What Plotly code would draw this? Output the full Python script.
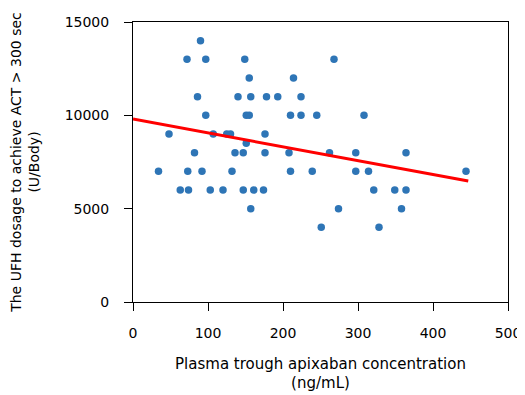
import plotly.graph_objects as go

conc = [90, 72, 97, 149, 268, 155, 214, 86, 140, 157, 178, 193, 224,
        97, 151, 155, 210, 224, 245, 308, 48, 107, 125, 130, 176, 151,
        82, 136, 147, 176, 208, 262, 297, 364, 34, 73, 92, 132, 210, 239,
        297, 314, 444, 63, 74, 103, 120, 147, 161, 174, 321, 349, 364,
        157, 274, 358, 251, 328]
dose = [14000, 13000, 13000, 13000, 13000, 12000, 12000, 11000, 11000, 11000,
        11000, 11000, 11000, 10000, 10000, 10000, 10000, 10000, 10000, 10000,
        9000, 9000, 9000, 9000, 9000, 8500, 8000, 8000, 8000, 8000, 8000,
        8000, 8000, 8000, 7000, 7000, 7000, 7000, 7000, 7000, 7000, 7000,
        7000, 6000, 6000, 6000, 6000, 6000, 6000, 6000, 6000, 6000, 6000,
        5000, 5000, 5000, 4000, 4000]
fit_x = [0, 447]
fit_y = [9800, 6480]
x_ticks = [0, 100, 200, 300, 400, 500]
y_ticks = [0, 5000, 10000, 15000]
y_tick_labels = ["0", "5000", "10000", "15000"]

fig = go.Figure()
fig.add_trace(go.Scatter(x=conc, y=dose, mode="markers",
                         marker=dict(color="#2e75b6", size=7.5, line=dict(width=0)),
                         showlegend=False, cliponaxis=False))
fig.add_trace(go.Scatter(x=fit_x, y=fit_y, mode="lines",
                         line=dict(color="#ff0000", width=3),
                         showlegend=False))

axis_common = dict(showgrid=False, zeroline=False, showline=True, linecolor="black",
                   linewidth=1, mirror=True, ticks="outside", ticklen=8,
                   tickcolor="black", tickfont=dict(size=14, color="black"),
                   automargin=False)
fig.update_xaxes(range=[0, 500], tickvals=x_ticks, ticklabelstandoff=10,
                 **axis_common,
                 title=dict(text="Plasma trough apixaban concentration<br>(ng/mL)",
                            font=dict(size=15, color="black"), standoff=18))
fig.update_yaxes(range=[0, 15000], tickvals=y_ticks, ticktext=y_tick_labels,
                 ticklabelstandoff=12, **axis_common,
                 title=dict(text="The UFH dosage to achieve ACT > 300 sec<br>(U/Body)",
                            font=dict(size=14, color="black"), standoff=26))
fig.update_layout(width=517, height=387, margin=dict(l=125, r=17, t=14, b=93),
                  plot_bgcolor="white", paper_bgcolor="white",
                  font=dict(family="DejaVu Sans", color="black"))
fig.write_html("out.html")
